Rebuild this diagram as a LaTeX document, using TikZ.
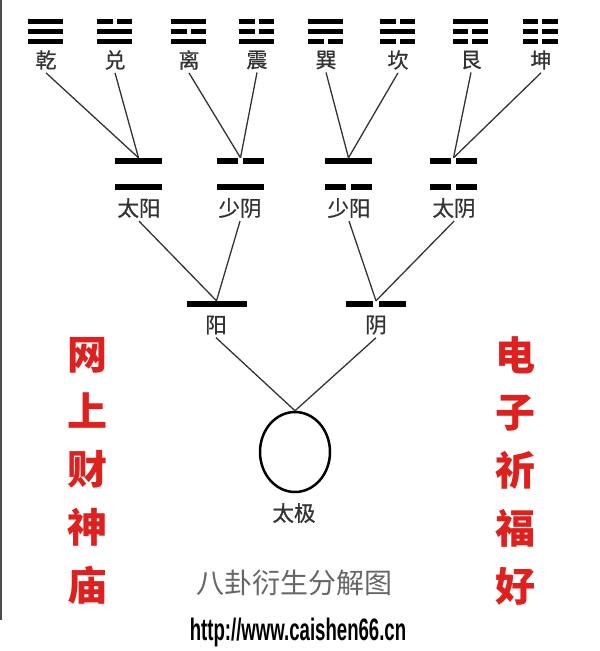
\documentclass[tikz,border=0pt]{standalone}
\usepackage{fontspec}
\setmainfont{Liberation Sans}
\newfontfamily\cjk{Noto Sans CJK SC}
\newfontfamily\cjkm[FakeBold=0.7]{Noto Sans CJK SC}
\usetikzlibrary{shapes}
\usetikzlibrary{positioning}
\tikzset{
    yao/.style = {rectangle, fill=black, inner sep=0pt, minimum width=35pt, minimum height=5pt},
    yaob/.style = {yao, minimum width=47pt, minimum height=6pt},
    yaoc/.style = {yao, minimum width=60pt, minimum height=6pt},
    yin/.style = {path picture={\fill[white] ([xshift=-#1]path picture bounding box.south) rectangle ([xshift=#1]path picture bounding box.north);}},
    yin/.default = 2pt,
    gualabel/.style = {inner sep=3pt, text=black!80, font=\cjkm\fontsize{21}{21}\selectfont},
    xianglabel/.style = {gualabel, font=\cjkm\fontsize{21.5}{21.5}\selectfont},
    redcol/.style = {align=center, text={rgb,255:red,222;green,32;blue,30}, font=\cjk\bfseries\fontsize{40}{57.75}\selectfont},
    edgen/.style = {draw=black!80, line width=1.3pt},
}

\begin{document}
\begin{tikzpicture}[x=1pt,y=-1pt]
\useasboundingbox (0,0) rectangle (600,651);
\draw[black!70, line width=1.5pt] (0.75,0) -- (0.75,620);
%
% eight trigrams
\node[yao] at (45.5,21) (qian1) {};
\node[yao] at (45.5,31) (qian2) {};
\node[yao] at (45.5,41) (qian3) {};
\node[yao,yin] at (114.5,21) (dui1) {};
\node[yao] at (114.5,31) (dui2) {};
\node[yao] at (114.5,41) (dui3) {};
\node[yao] at (188.5,21) (li1) {};
\node[yao,yin] at (188.5,31) (li2) {};
\node[yao] at (188.5,41) (li3) {};
\node[yao,yin] at (256.5,21) (zhen1) {};
\node[yao,yin] at (256.5,31) (zhen2) {};
\node[yao] at (256.5,41) (zhen3) {};
\node[yao] at (325.5,21) (xun1) {};
\node[yao] at (325.5,31) (xun2) {};
\node[yao,yin] at (325.5,41) (xun3) {};
\node[yao,yin] at (397.5,21) (kan1) {};
\node[yao] at (397.5,31) (kan2) {};
\node[yao,yin] at (397.5,41) (kan3) {};
\node[yao] at (470,21) (gen1) {};
\node[yao,yin] at (470,31) (gen2) {};
\node[yao,yin] at (470,41) (gen3) {};
\node[yao,yin] at (540,21) (kun1) {};
\node[yao,yin] at (540,31) (kun2) {};
\node[yao,yin] at (540,41) (kun3) {};
%
\node[gualabel] at (46,60) (qian) {乾};
\node[gualabel] at (115,60) (dui) {兑};
\node[gualabel] at (189,60) (li) {离};
\node[gualabel] at (257,60) (zhen) {震};
\node[gualabel] at (326,60) (xun) {巽};
\node[gualabel] at (398,60) (kan) {坎};
\node[gualabel] at (471,60) (gen) {艮};
\node[gualabel] at (541,60) (kun) {坤};
%
% four images
\node[yaob] at (138.5,161) (taiyang1) {};
\node[yaob] at (138.5,187) (taiyang2) {};
\node[yaob,yin=2.5pt] at (240.5,161) (shaoyin1) {};
\node[yaob] at (240.5,187) (shaoyin2) {};
\node[yaob] at (348.5,161) (shaoyang1) {};
\node[yaob,yin=2.5pt] at (348.5,187) (shaoyang2) {};
\node[yaob,yin=2.5pt] at (453.5,161) (taiyin1) {};
\node[yaob,yin=2.5pt] at (453.5,187) (taiyin2) {};
%
\node[xianglabel] at (139,208) (taiyang) {太阳};
\node[xianglabel] at (240,208) (shaoyin) {少阴};
\node[xianglabel] at (349,208) (shaoyang) {少阳};
\node[xianglabel] at (454,208) (taiyin) {太阴};
%
% two forms
\node[yaoc] at (216.5,304) (yangyao) {};
\node[yaoc,yin=3pt] at (376,304) (yinyao) {};
\node[xianglabel] at (216,325) (yang) {阳};
\node[xianglabel] at (376,325) (yin) {阴};
%
\node[ellipse, draw, line width=2.5pt, minimum width=70pt, minimum height=80pt, inner sep=0pt] at (295,452) (taiji) {};
\node[xianglabel] at (294,513) (taijil) {太极};
%
\draw[edgen] (qian.south) edge (taiyang1.north);
\draw[edgen] (dui.south) edge (taiyang1.north);
\draw[edgen] (li.south) edge (shaoyin1.north);
\draw[edgen] (zhen.south) edge (shaoyin1.north);
\draw[edgen] (xun.south) edge (shaoyang1.north);
\draw[edgen] (kan.south) edge (shaoyang1.north);
\draw[edgen] (gen.south) edge (taiyin1.north);
\draw[edgen] (kun.south) edge (taiyin1.north);
\draw[edgen] (taiyang.south) edge (yangyao.north);
\draw[edgen] (shaoyin.south) edge (yangyao.north);
\draw[edgen] (shaoyang.south) edge (yinyao.north);
\draw[edgen] (taiyin.south) edge (yinyao.north);
\draw[edgen] (yang.south) edge (taiji.north);
\draw[edgen] (yin.south) edge (taiji.north);

\node[text=black!60, font=\cjk\fontsize{28}{28}\selectfont] at (294,583) (title) {八卦衍生分解图};
\node[font=\bfseries\fontsize{31}{31}\selectfont] at (298,632) (url) {\scalebox{0.6}[1]{http://www.caishen66.cn}};
\node[redcol] at (87,470.5) (leftcol) {网\\上\\财\\神\\庙};
\node[redcol] at (515,470.5) (rightcol) {电\\子\\祈\\福\\好};

\end{tikzpicture}
\end{document}
